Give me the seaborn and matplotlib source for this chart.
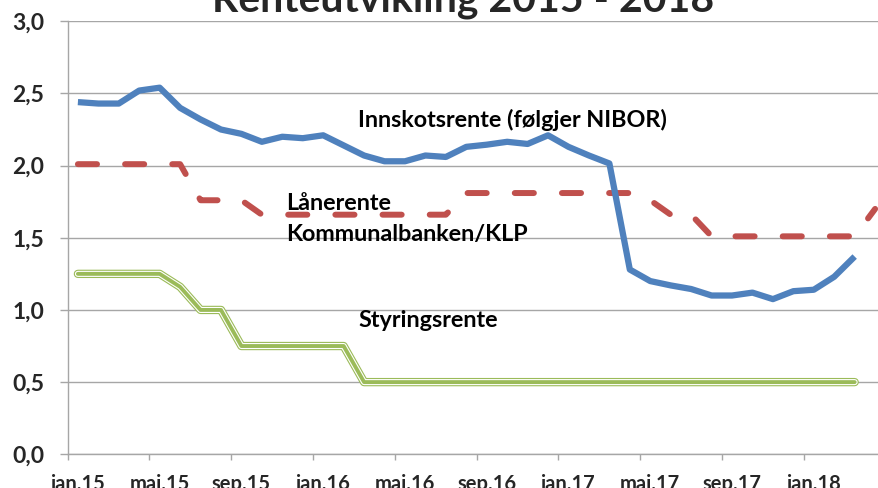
import matplotlib
matplotlib.use("Agg")
import matplotlib.pyplot as plt
import seaborn as sns
import pandas as pd
import numpy as np

# ---- data (monthly, from jan.15) ----
innskotsrente = [2.44, 2.43, 2.43, 2.52, 2.54, 2.40, 2.32, 2.25, 2.22, 2.165,
                 2.20, 2.19, 2.21, 2.14, 2.07, 2.03, 2.03, 2.07, 2.06, 2.13,
                 2.145, 2.165, 2.15, 2.21, 2.13, 2.07, 2.015, 1.28, 1.20, 1.17,
                 1.145, 1.10, 1.10, 1.12, 1.075, 1.13, 1.14, 1.23, 1.37]
laanerente = [2.01, 2.01, 2.01, 2.01, 2.01, 2.01, 1.76, 1.76, 1.76, 1.66,
              1.66, 1.66, 1.66, 1.66, 1.66, 1.66, 1.66, 1.66, 1.66, 1.81,
              1.81, 1.81, 1.81, 1.81, 1.81, 1.81, 1.81, 1.81, 1.76, 1.66,
              1.66, 1.51, 1.51, 1.51, 1.51, 1.51, 1.51, 1.51, 1.51, 1.70]
styringsrente = [1.25, 1.25, 1.25, 1.25, 1.25, 1.16, 1.00, 1.00, 0.75, 0.75,
                 0.75, 0.75, 0.75, 0.75, 0.50, 0.50, 0.50, 0.50, 0.50, 0.50,
                 0.50, 0.50, 0.50, 0.50, 0.50, 0.50, 0.50, 0.50, 0.50, 0.50,
                 0.50, 0.50, 0.50, 0.50, 0.50, 0.50, 0.50, 0.50, 0.50]
tick_labels = ["jan.15", "mai.15", "sep.15", "jan.16", "mai.16",
               "sep.16", "jan.17", "mai.17", "sep.17", "jan.18"]
y_ticks = [0.0, 0.5, 1.0, 1.5, 2.0, 2.5, 3.0]
title = "Renteutvikling 2015 - 2018"

sns.set_theme(style="white")
plt.rcParams['font.family'] = ['Lato', 'DejaVu Sans']

fig = plt.figure(figsize=(8.79, 4.88), dpi=100)
ax = fig.add_axes([0.0770, 0.0691, 0.9230, 0.8873])

df_b = pd.DataFrame({"i": np.arange(len(innskotsrente)), "v": innskotsrente})
df_r = pd.DataFrame({"i": np.arange(len(laanerente)), "v": laanerente})
df_g = pd.DataFrame({"i": np.arange(len(styringsrente)), "v": styringsrente})

green = "#9BBB59"
# compound (double) green line
sns.lineplot(data=df_g, x="i", y="v", ax=ax, color=green, linewidth=6.0,
             solid_capstyle="round", solid_joinstyle="round", zorder=3)
sns.lineplot(data=df_g, x="i", y="v", ax=ax, color="white", linewidth=4.4,
             solid_capstyle="round", solid_joinstyle="round", zorder=4)
sns.lineplot(data=df_g, x="i", y="v", ax=ax, color=green, linewidth=2.8,
             solid_capstyle="round", solid_joinstyle="round", zorder=5)

sns.lineplot(data=df_r, x="i", y="v", ax=ax, color="#C0504D", linewidth=4.3,
             zorder=6)
red_line = ax.lines[-1]
red_line.set_linestyle((0, (3.2, 4.7)))
red_line.set_dash_capstyle("round")
red_line.set_dash_joinstyle("round")

sns.lineplot(data=df_b, x="i", y="v", ax=ax, color="#4F81BD", linewidth=4.5,
             solid_capstyle="butt", solid_joinstyle="round", zorder=7)

ax.set_xlim(-0.5, 39.19)
ax.set_ylim(0, 3.0)
ax.set_xlabel("")
ax.set_ylabel("")

grid_c = "#A6A6A6"
ax.set_yticks(y_ticks)
ax.set_yticklabels([f"{v:.1f}".replace(".", ",") for v in y_ticks],
                   fontsize=16.5, fontweight="bold")
ax.yaxis.grid(True, color=grid_c, linewidth=1.0)
ax.set_axisbelow(True)

# category boundaries as major ticks, labels at category centres
ax.set_xticks(np.arange(-0.5, 39.2, 4))
ax.set_xticklabels([])
ax.set_xticks(np.arange(0, 4 * len(tick_labels), 4), minor=True)
ax.set_xticklabels(tick_labels, minor=True, fontsize=14.5, fontweight="bold")
ax.tick_params(axis="x", which="major", length=4.5, width=1, color=grid_c,
               direction="out", bottom=True)
ax.tick_params(axis="x", which="minor", length=0, pad=14.5, bottom=True)
ax.tick_params(axis="y", length=6, width=1, color=grid_c, direction="out",
               left=True, pad=11)

for s in ["top", "right"]:
    ax.spines[s].set_visible(False)
for s in ["left", "bottom"]:
    ax.spines[s].set_color(grid_c)
    ax.spines[s].set_linewidth(1.0)

# annotations
tkw = dict(fontsize=16.8, fontweight="bold", color="black", va="baseline", ha="left")
ax.text(13.70, 2.267, "Innskotsrente (følgjer NIBOR)", **tkw, zorder=10)
ax.text(10.18, 1.693, "Lånerente", **tkw, zorder=10)
ax.text(10.18, 1.480, "Kommunalbanken/KLP", **tkw, zorder=10)
ax.text(13.70, 0.882, "Styringsrente", **tkw, zorder=10)

fig.text(463 / 879, 1 - 11.7 / 488, title, fontsize=29.5, fontweight="bold",
         ha="center", va="baseline")

fig.savefig("out.png", dpi=100)
